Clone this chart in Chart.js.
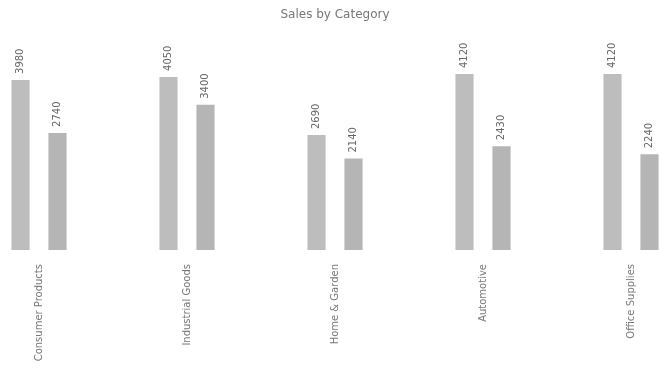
<!DOCTYPE html>
<html>
<head>
<meta charset="utf-8">
<script src="https://cdn.jsdelivr.net/npm/chart.js@4.4.1/dist/chart.umd.min.js"></script>
<style>
    html, body { margin: 0; padding: 0; background: #fff; }
    #wrap { width: 659px; height: 370px; position: relative; }
</style>
</head>
<body>
<div id="wrap"><canvas id="chart"></canvas></div>
<script>
const titleText = 'Sales by Category';
const categories = ['Consumer Products', 'Industrial Goods', 'Home & Garden', 'Automotive', 'Office Supplies'];
const seriesA = [3980, 4050, 2690, 4120, 4120];
const seriesB = [2740, 3400, 2140, 2430, 2240];
const yMax = 5000;

(() => {
    const canvas = document.getElementById('chart');
    if (!canvas || typeof Chart === 'undefined') {
        return;
    }

    // values written vertically above each bar
    const valueLabels = {
        id: 'valueLabels',
        afterDatasetsDraw(chart) {
            const ctx = chart.ctx;
            ctx.save();
            ctx.fillStyle = '#666';
            ctx.font = '10px "DejaVu Sans"';
            ctx.textAlign = 'left';
            ctx.textBaseline = 'middle';
            chart.data.datasets.forEach((ds, i) => {
                chart.getDatasetMeta(i).data.forEach((bar, j) => {
                    ctx.save();
                    ctx.translate(bar.x, bar.y - 6);
                    ctx.rotate(-Math.PI / 2);
                    ctx.fillText(String(ds.data[j]), 0, 0);
                    ctx.restore();
                });
            });
            ctx.restore();
        },
    };

    new Chart(canvas, {
        type: 'bar',
        data: {
            labels: categories,
            datasets: [
                {
                    label: 'A',
                    data: seriesA,
                    backgroundColor: '#bdbdbd',
                    clip: false,
                },
                {
                    label: 'B',
                    data: seriesB,
                    backgroundColor: '#b5b5b5',
                    clip: false,
                },
            ],
        },
        options: {
            responsive: true,
            maintainAspectRatio: false,
            animation: false,
            categoryPercentage: 0.5,
            barPercentage: 0.49,
            layout: {
                padding: { left: 39, right: 28, top: 0, bottom: 0 },
            },
            plugins: {
                legend: { display: false },
                tooltip: { enabled: false },
                title: {
                    display: true,
                    text: titleText,
                    color: '#777',
                    font: { family: 'DejaVu Sans', size: 12, weight: 'normal' },
                    padding: { top: 8, bottom: 14 },
                },
            },
            scales: {
                x: {
                    offset: false,
                    grid: { display: false, drawTicks: false },
                    border: { display: false },
                    ticks: {
                        color: '#777',
                        font: { family: 'DejaVu Sans', size: 10 },
                        minRotation: 90,
                        maxRotation: 90,
                        padding: 14,
                    },
                    afterFit: (scale) => {
                        scale.height = 120;
                    },
                },
                y: {
                    display: false,
                    min: 0,
                    max: yMax,
                },
            },
        },
        plugins: [valueLabels],
    });
})();
</script>
</body>
</html>
